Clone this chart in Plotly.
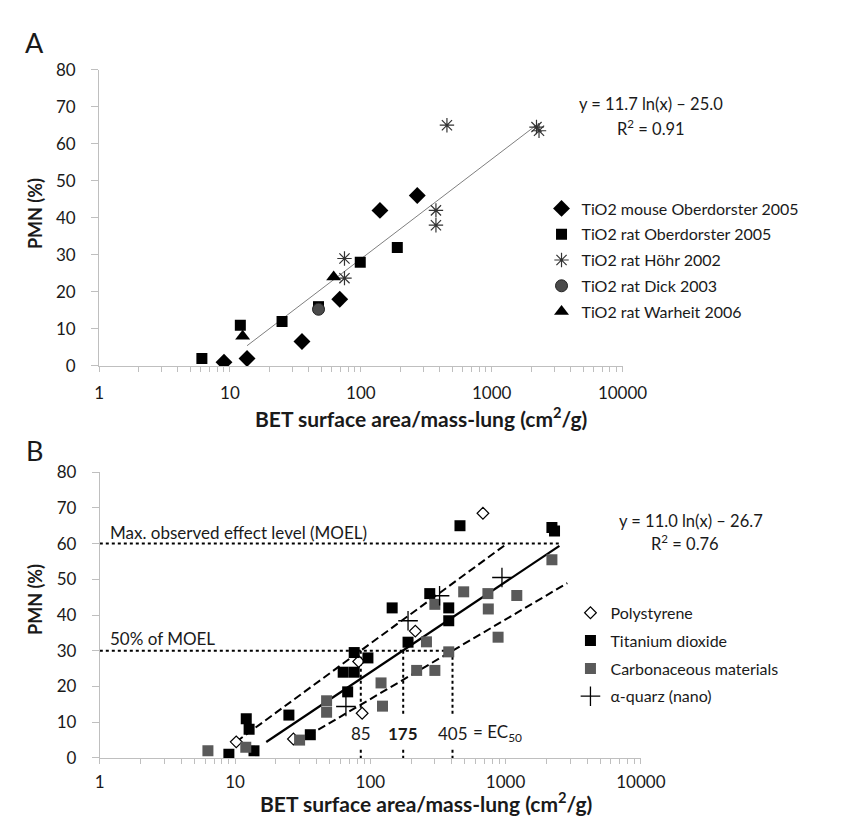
import math
import plotly.graph_objects as go

W, H = 844, 823
FONT = "Lato"
TXT = "#1a1a1a"
AXC = "#bfbfbf"

# ---------------- Panel A data ----------------
a_mouse_x = [9, 13.5, 35.5, 69, 140, 270]
a_mouse_y = [1, 2, 6.6, 18, 42, 46]
a_ober_x = [6.1, 12, 25, 47.5, 99, 190]
a_ober_y = [2, 11, 12, 16, 28, 32]
a_hohr_x = [75, 75, 375, 375, 455, 2200, 2300]
a_hohr_y = [29, 23.7, 42, 38, 65, 64.5, 63.5]
a_dick_x = [47.5]
a_dick_y = [15.3]
a_warh_x = [12.5, 62]
a_warh_y = [8, 24]
a_fit = dict(slope=11.7, intercept=-25.0, r2=0.91, xmin=13.5, xmax=2300)

# ---------------- Panel B data ----------------
b_poly_x = [10.2, 27, 82, 87, 215, 680]
b_poly_y = [4.5, 5.3, 27, 12.5, 35.5, 68.5]
b_tio2_x = [9, 12.1, 12.7, 13.8, 25, 36, 63, 68, 76, 76, 96,
            145, 190, 275, 380, 380, 460, 2200, 2300]
b_tio2_y = [1, 11, 8, 2, 12, 6.5, 24, 18.5, 24, 29.5, 28,
            42, 32.4, 46, 42, 38.4, 65, 64.5, 63.5]
b_carb_x = [6.3, 12, 30, 47.5, 47.5, 120, 123, 220, 260, 300, 300, 380, 490,
            740, 745, 880, 1210, 2200]
b_carb_y = [2, 3, 5, 16, 12.8, 21, 14.5, 24.5, 32.5, 24.5, 43, 29.7, 46.5,
            46, 41.7, 33.8, 45.5, 55.5]
b_quarz_x = [66, 190, 325, 940]
b_quarz_y = [14.4, 38.4, 45.4, 50.5]
b_fit = dict(slope=11.0, intercept=-26.7, r2=0.76, xmin=17, xmax=2500)
b_upper = dict(slope=12.03, intercept=-23.4, xmin=10.2, xmax=1000)
b_lower = dict(slope=9.68, intercept=-28.1, xmin=29, xmax=2860)
moel = 60
ec_values = [85, 175, 405]
ec_label_y = 6.9

tick_vals = [1, 10, 100, 1000, 10000]
tick_text = ["1", "10", "100", "1000", "10000"]
minor_vals = [m * 10 ** k for k in range(4) for m in range(2, 10)]


def fit_line(f):
    xs = [f["xmin"], f["xmax"]]
    ys = [f["slope"] * math.log(x) + f["intercept"] for x in xs]
    return xs, ys


fig = go.Figure()

# ---- Panel A traces ----
fx, fy = fit_line(a_fit)
fig.add_trace(go.Scatter(x=fx, y=fy, mode="lines", line=dict(color="#7f7f7f", width=1),
                         showlegend=False, xaxis="x", yaxis="y", hoverinfo="skip"))
mk = dict(xaxis="x", yaxis="y", mode="markers", legend="legend")
fig.add_trace(go.Scatter(x=a_mouse_x, y=a_mouse_y, name="TiO2 mouse Oberdorster 2005",
                         marker=dict(symbol="diamond", size=13, color="black"), legendgroup="a1", **mk))
fig.add_trace(go.Scatter(x=a_ober_x, y=a_ober_y, name="TiO2 rat Oberdorster 2005",
                         marker=dict(symbol="square", size=11, color="black"), legendgroup="a2", **mk))
fig.add_trace(go.Scatter(x=a_hohr_x, y=a_hohr_y, name="TiO2 rat Höhr 2002",
                         marker=dict(symbol="asterisk-open", size=12, color="#333333",
                                     line=dict(width=1.2, color="#333333")), legendgroup="a3", **mk))
fig.add_trace(go.Scatter(x=a_dick_x, y=a_dick_y, name="TiO2 rat Dick 2003",
                         marker=dict(symbol="circle", size=12, color="#4a4a4a",
                                     line=dict(width=1, color="#222222")), legendgroup="a4", **mk))
fig.add_trace(go.Scatter(x=a_warh_x, y=a_warh_y, name="TiO2 rat Warheit 2006",
                         marker=dict(symbol="triangle-up", size=13, color="black"), legendgroup="a5", **mk))

# ---- Panel B lines ----
lx = dict(xaxis="x2", yaxis="y2", mode="lines", showlegend=False, hoverinfo="skip")
dot = dict(color="black", width=2, dash="dot")
fig.add_trace(go.Scatter(x=[1, b_fit["xmax"]], y=[moel, moel], line=dot, **lx))
fig.add_trace(go.Scatter(x=[1, ec_values[2]], y=[moel / 2, moel / 2], line=dot, **lx))
for v in ec_values:
    fig.add_trace(go.Scatter(x=[v, v], y=[moel / 2, 12.3], line=dot, **lx))
    fig.add_trace(go.Scatter(x=[v, v], y=[2.3, 0], line=dot, **lx))
ux, uy = fit_line(b_upper)
fig.add_trace(go.Scatter(x=ux, y=uy, line=dict(color="black", width=2, dash="8px,4px"), **lx))
lwx, lwy = fit_line(b_lower)
fig.add_trace(go.Scatter(x=lwx, y=lwy, line=dict(color="black", width=2, dash="8px,4px"), **lx))
bx, by = fit_line(b_fit)
fig.add_trace(go.Scatter(x=bx, y=by, line=dict(color="black", width=2.2), **lx))

mk2 = dict(xaxis="x2", yaxis="y2", mode="markers", legend="legend2")
fig.add_trace(go.Scatter(x=b_poly_x, y=b_poly_y, name="Polystyrene",
                         marker=dict(symbol="diamond", size=9, color="white",
                                     line=dict(width=1.2, color="black")), legendgroup="b1", **mk2))
fig.add_trace(go.Scatter(x=b_tio2_x, y=b_tio2_y, name="Titanium dioxide",
                         marker=dict(symbol="square", size=11, color="black"), legendgroup="b2", **mk2))
fig.add_trace(go.Scatter(x=b_carb_x, y=b_carb_y, name="Carbonaceous materials",
                         marker=dict(symbol="square", size=11, color="#5a5a5a"), legendgroup="b3", **mk2))
fig.add_trace(go.Scatter(x=b_quarz_x, y=b_quarz_y, name="α-quarz (nano)",
                         marker=dict(symbol="cross-thin-open", size=14, color="black",
                                     line=dict(width=1.3, color="black")), legendgroup="b4", **mk2))


def px(x):
    return x / W


def py(y):
    return 1 - y / H


def xaxis_cfg(standoff):
    return dict(type="log", range=[0, 4], tickmode="array", tickvals=tick_vals, ticktext=tick_text,
                showgrid=False, zeroline=False, showline=True, linecolor=AXC, linewidth=1,
                ticks="outside", ticklen=5, tickcolor=AXC, ticklabelstandoff=standoff,
                minor=dict(tickvals=minor_vals, ticks="outside", ticklen=5, tickcolor=AXC, showgrid=False),
                tickfont=dict(family=FONT, size=17, color=TXT))


ycommon = dict(range=[0, 80], dtick=10, showgrid=False, zeroline=False, showline=True,
               linecolor=AXC, linewidth=1, ticks="outside", ticklen=7, tickcolor=AXC,
               ticklabelstandoff=12, tickfont=dict(family=FONT, size=17, color=TXT))

ann = []


def text(x, y, s, size=18, bold=False, xanchor="center", rot=0):
    ann.append(dict(x=px(x), y=py(y), xref="paper", yref="paper",
                    text=("<b>%s</b>" % s) if bold else s,
                    showarrow=False, xanchor=xanchor, yanchor="middle", textangle=rot,
                    font=dict(family=FONT, size=size, color=TXT)))


text(22, 24, "A", size=27)
text(22, 443, "B", size=27)
text(23, 200, "PMN (%)", size=18, bold=True, rot=-90)
text(23, 596, "PMN (%)", size=18, bold=True, rot=-90)
title = "BET surface area/mass-lung (cm<sup>2</sup>/g)"
text(423, 408, title, size=21, bold=True)
text(428, 803, title, size=21, bold=True)
text(661, 87, "y = %.1f ln(x) – %.1f" % (a_fit["slope"], -a_fit["intercept"]), size=16.5)
text(661, 112, "R<sup>2</sup> = %.2f" % a_fit["r2"], size=16.5)
text(703, 515, "y = %.1f ln(x) – %.1f" % (b_fit["slope"], -b_fit["intercept"]), size=16.5)
text(697, 538, "R<sup>2</sup> = %.2f" % b_fit["r2"], size=16.5)
text(99, 527, "Max. observed effect level (MOEL)", size=17, xanchor="left")
text(98, 636, "50% of MOEL", size=17, xanchor="left")

lab = dict(family=FONT, size=17, color=TXT)
ann.append(dict(x=math.log10(ec_values[0]), y=ec_label_y, xref="x2", yref="y2", text=str(ec_values[0]),
                showarrow=False, font=lab))
ann.append(dict(x=math.log10(ec_values[1]), y=ec_label_y, xref="x2", yref="y2",
                text="<b>%d</b>" % ec_values[1], showarrow=False, font=lab))
ann.append(dict(x=math.log10(ec_values[2]), y=ec_label_y, xref="x2", yref="y2", text=str(ec_values[2]),
                showarrow=False, font=lab))
ann.append(dict(x=math.log10(ec_values[2]), y=ec_label_y, xref="x2", yref="y2", text="= EC<sub>50</sub>",
                showarrow=False, xanchor="left", xshift=18, font=lab))

fig.update_layout(
    width=W, height=H, paper_bgcolor="white", plot_bgcolor="white",
    margin=dict(l=0, r=0, t=0, b=0),
    xaxis=dict(domain=[px(89.3), px(632)], anchor="y", **xaxis_cfg(7)),
    yaxis=dict(domain=[py(356), py(52)], anchor="x", **ycommon),
    xaxis2=dict(domain=[px(90), px(651)], anchor="y2", **xaxis_cfg(4)),
    yaxis2=dict(domain=[py(758.3), py(465)], anchor="x2", **ycommon),
    legend=dict(x=px(548), y=py(177), xanchor="left", yanchor="top", bgcolor="rgba(0,0,0,0)",
                font=dict(family=FONT, size=16, color=TXT), tracegroupgap=2, itemclick=False),
    legend2=dict(x=px(578), y=py(592), xanchor="left", yanchor="top", bgcolor="rgba(0,0,0,0)",
                 font=dict(family=FONT, size=16, color=TXT), tracegroupgap=4, itemclick=False),
    annotations=ann,
    showlegend=True,
)

fig.write_html("out.html")
